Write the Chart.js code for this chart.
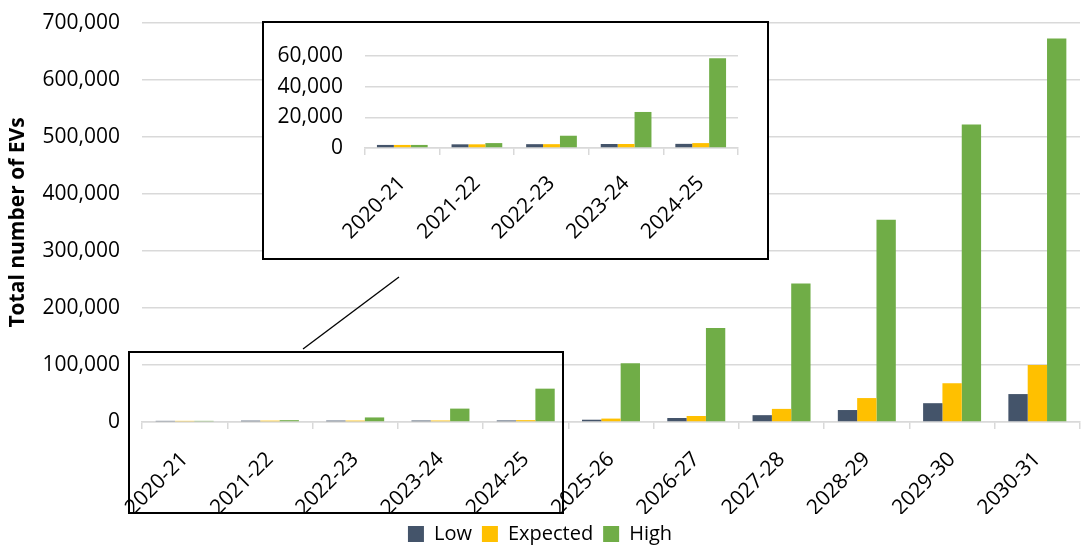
<!DOCTYPE html>
<html>
<head>
<meta charset="utf-8">
<script src="https://cdn.jsdelivr.net/npm/chart.js@4.4.1/dist/chart.umd.min.js"></script>
<style>
  body { margin: 0; background: #fff; }
  #wrap { position: relative; width: 1081px; height: 546px; overflow: hidden; }
  #main { position: absolute; left: 0; top: 0; width: 1081px; height: 546px; }
  #inset { position: absolute; left: 262px; top: 21px; width: 503px; height: 235px; border: 2px solid #000; background: #fff; }
  #zoomBox { position: absolute; left: 128px; top: 351px; width: 432px; height: 159px; border: 2px solid #000; }
  #link { position: absolute; left: 0; top: 0; }
</style>
</head>
<body>
<div id="wrap">
  <div id="main"><canvas id="chart"></canvas></div>
  <div id="zoomBox"></div>
  <svg id="link" width="1081" height="546"><line x1="303" y1="349" x2="399" y2="277" stroke="#000" stroke-width="1.3"/></svg>
  <div id="inset"><canvas id="insetChart"></canvas></div>
</div>
<script>
const categories = ["2020-21", "2021-22", "2022-23", "2023-24", "2024-25", "2025-26", "2026-27", "2027-28", "2028-29", "2029-30", "2030-31"];
const lowValues = [2000, 2400, 2500, 2600, 2700, 4000, 7000, 12000, 21000, 33000, 49000];
const expectedValues = [2000, 2400, 2500, 2600, 3200, 6000, 10500, 23000, 42000, 68000, 100000];
const highValues = [2000, 3200, 8000, 23500, 58500, 103000, 165000, 243000, 355000, 522000, 673000];
const INSET_COUNT = 5; // first five years are zoomed in the box

const LOW_COLOR = "#44546A";
const EXP_COLOR = "#FFC000";
const HIGH_COLOR = "#70AD47";
const GRID = "#d9d9d9";

Chart.defaults.font.family = "'Open Sans', sans-serif";
Chart.defaults.font.size = 21;
Chart.defaults.color = "#000";

function fmt(v) {
    return Number(v).toLocaleString("en-US");
}

function makeDatasets(n) {
    return [
        {label: "Low", data: lowValues.slice(0, n), backgroundColor: LOW_COLOR},
        {label: "Expected", data: expectedValues.slice(0, n), backgroundColor: EXP_COLOR},
        {label: "High", data: highValues.slice(0, n), backgroundColor: HIGH_COLOR}
    ];
}

const barOpts = {categoryPercentage: 0.68, barPercentage: 1.0};

// main chart
new Chart(document.getElementById("chart"), {
    type: "bar",
    data: {labels: categories, datasets: makeDatasets(categories.length)},
    options: {
        responsive: true,
        maintainAspectRatio: false,
        animation: false,
        datasets: {bar: barOpts},
        layout: {padding: {top: 23, right: 1, left: 0, bottom: -8}},
        plugins: {
            legend: {
                position: "bottom",
                labels: {boxWidth: 16, boxHeight: 16, padding: 10, font: {size: 20}}
            },
            tooltip: {enabled: false}
        },
        scales: {
            x: {
                grid: {drawOnChartArea: false, drawTicks: true, tickLength: 7, color: GRID, lineWidth: 1.5, offset: true},
                border: {color: GRID, width: 1.5},
                ticks: {minRotation: 45, maxRotation: 45, padding: 18},
                afterFit: s => { s.height = 92; }
            },
            y: {
                min: 0,
                max: 700000,
                ticks: {stepSize: 100000, padding: 22, callback: fmt},
                grid: {color: GRID, lineWidth: 1.5, drawTicks: false},
                border: {display: false},
                title: {display: true, text: "Total number of EVs", font: {size: 21, weight: "bold"}, padding: {top: 5, bottom: 2}},
                afterFit: s => { s.width = 142; s.paddingTop = 0; s.paddingBottom = 0; }
            }
        }
    }
});

// zoomed inset
new Chart(document.getElementById("insetChart"), {
    type: "bar",
    data: {labels: categories.slice(0, INSET_COUNT), datasets: makeDatasets(INSET_COUNT)},
    options: {
        responsive: true,
        maintainAspectRatio: false,
        animation: false,
        datasets: {bar: barOpts},
        layout: {padding: {top: 33, right: 29, left: 0, bottom: 0}},
        plugins: {legend: {display: false}, tooltip: {enabled: false}},
        scales: {
            x: {
                grid: {drawOnChartArea: false, drawTicks: true, tickLength: 7, color: GRID, lineWidth: 1.5, offset: true},
                border: {color: GRID, width: 1.5},
                ticks: {minRotation: 45, maxRotation: 45, padding: 16},
                afterFit: s => { s.height = 110; }
            },
            y: {
                min: 0,
                max: 60000,
                ticks: {stepSize: 20000, padding: 22, callback: fmt},
                grid: {color: GRID, lineWidth: 1.5, drawTicks: false},
                border: {display: false},
                afterFit: s => { s.width = 101; s.paddingTop = 0; s.paddingBottom = 0; }
            }
        }
    }
});
</script>
</body>
</html>
